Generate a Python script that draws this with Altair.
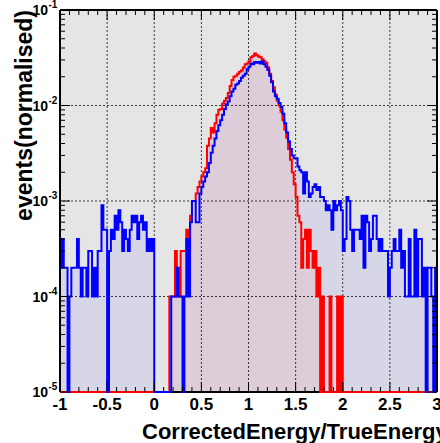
import altair as alt
import pandas as pd

# Histogram binning: 200 bins of width 0.02 between -1 and 3
X_MIN, X_MAX = -1.0, 3.0
BIN_WIDTH = 0.02
N_ENTRIES = 10000.0          # entries per sample, used for the normalisation
Y_FLOOR = 1e-5               # bottom of the log axis; empty bins sit on it

# Bin contents (entries per bin), split in four ranges of 50 bins
blue_m1_0 = [2, 4, 2, 2, 0, 1, 2, 2, 2, 4,
             2, 1, 2, 2, 1, 3, 3, 1, 2, 1,
             3, 3, 9, 5, 5, 0, 3, 5, 4, 7,
             5, 8, 6, 3, 5, 4, 3, 5, 7, 6,
             7, 4, 6, 7, 5, 6, 3, 4, 3, 4]
blue_0_1 = [0, 0, 0, 0, 0, 0, 0, 0, 0, 1,
            1, 1, 2, 1, 1, 0, 1, 4, 1, 6,
            10, 10, 6, 6, 12, 14, 16, 18, 20, 25,
            32, 38, 45, 54, 62, 70, 80, 92, 103, 110,
            125, 140, 150, 165, 170, 180, 195, 205, 215, 240]
blue_1_2 = [255, 275, 270, 285, 280, 285, 275, 290, 270, 255,
            235, 205, 175, 140, 125, 118, 106, 97, 82, 65,
            52, 42, 35, 30, 28, 28, 23, 21, 20, 12,
            20, 16, 11, 12, 14, 15, 13, 14, 11, 11,
            10, 8, 9, 8, 5, 10, 8, 9, 10, 8]
blue_2_3 = [3, 4, 11, 10, 5, 3, 5, 5, 5, 4,
            7, 2, 7, 6, 3, 4, 7, 7, 4, 3,
            4, 3, 3, 3, 1, 2, 3, 4, 3, 3,
            5, 2, 3, 1, 1, 4, 1, 1, 5, 1,
            4, 4, 1, 2, 0, 2, 2, 1, 0, 2]

red_m1_0 = [0, 0, 0, 0, 0, 0, 0, 0, 0, 0,
            0, 0, 0, 0, 0, 0, 0, 0, 0, 0,
            0, 0, 0, 0, 0, 0, 0, 0, 0, 0,
            0, 0, 0, 0, 0, 0, 0, 0, 0, 0,
            0, 0, 0, 0, 0, 0, 0, 0, 0, 0]
red_0_1 = [0, 0, 0, 0, 0, 0, 0, 0, 1, 1,
           1, 3, 1, 1, 3, 3, 3, 5, 3, 7,
           10, 10, 12, 14, 16, 18, 20, 22, 38, 45,
           58, 52, 65, 80, 90, 92, 105, 112, 120, 135,
           160, 185, 200, 205, 215, 225, 232, 250, 270, 275]
red_1_2 = [290, 320, 330, 350, 335, 325, 320, 305, 290, 280,
           250, 215, 180, 155, 130, 112, 100, 86, 70, 56,
           46, 35, 27, 20, 15, 11, 7, 6, 2, 4,
           5, 2, 5, 3, 2, 3, 1, 2, 0, 1,
           0, 0, 0, 1, 0, 0, 0, 1, 0, 1]
red_2_3 = [0, 0, 0, 0, 0, 0, 0, 0, 0, 0,
           0, 0, 0, 0, 0, 0, 0, 0, 0, 0,
           0, 0, 0, 0, 0, 0, 0, 0, 0, 0,
           0, 0, 0, 0, 0, 0, 0, 0, 0, 0,
           0, 0, 0, 0, 0, 0, 0, 0, 0, 0]

# Axis decorations
x_major = [-1, -0.5, 0, 0.5, 1, 1.5, 2, 2.5, 3]
x_major_labels = ["-1", "-0.5", "0", "0.5", "1", "1.5", "2", "2.5", "3"]
x_minor = [-0.9, -0.8, -0.7, -0.6, -0.4, -0.3, -0.2, -0.1,
           0.1, 0.2, 0.3, 0.4, 0.6, 0.7, 0.8, 0.9,
           1.1, 1.2, 1.3, 1.4, 1.6, 1.7, 1.8, 1.9,
           2.1, 2.2, 2.3, 2.4, 2.6, 2.7, 2.8, 2.9]
y_major = [1e-5, 1e-4, 1e-3, 1e-2, 1e-1]
y_exponents = ["-5", "-4", "-3", "-2", "-1"]
y_minor = [m * d for d in (1e-5, 1e-4, 1e-3, 1e-2) for m in range(2, 10)]

X_TITLE = "CorrectedEnergy/TrueEnergy"
Y_TITLE = "events(normalised)"

W, H = 377, 382
FONT = "Liberation Sans"

xs = alt.Scale(domain=[X_MIN, X_MAX], nice=False, zero=False)
ys = alt.Scale(type="log", domain=[Y_FLOOR, 1e-1], nice=False)


def hist_frame(chunks):
    counts = [c for chunk in chunks for c in chunk]
    rows = [{"x": X_MIN + i * BIN_WIDTH, "v": max(c / N_ENTRIES, Y_FLOOR),
             "base": Y_FLOOR}
            for i, c in enumerate(counts)]
    rows.append({"x": X_MAX, "v": rows[-1]["v"], "base": Y_FLOOR})
    return pd.DataFrame(rows)


red_df = hist_frame([red_m1_0, red_0_1, red_1_2, red_2_3])
blue_df = hist_frame([blue_m1_0, blue_0_1, blue_1_2, blue_2_3])

X = alt.X("x:Q", scale=xs, axis=None)
Y = alt.Y("v:Q", scale=ys, axis=None)


def fill(df, color, op):
    return alt.Chart(df).mark_area(interpolate="step-after", fill=color,
                                   fillOpacity=op, stroke=None).encode(
        x=X, y=Y, y2=alt.Y2("base:Q"))


def outline(df, color):
    return alt.Chart(df).mark_line(interpolate="step-after", color=color,
                                   strokeWidth=2).encode(x=X, y=Y)


def vals(v):
    return pd.DataFrame({"v": v})


grid_style = dict(color="black", strokeDash=[2, 2], strokeWidth=1, opacity=0.75)
grid_x = alt.Chart(vals(x_major)).mark_rule(**grid_style).encode(
    x=alt.X("v:Q", scale=xs, axis=None))
grid_y = alt.Chart(vals(y_major)).mark_rule(**grid_style).encode(
    y=alt.Y("v:Q", scale=ys, axis=None))


def x_ticks(v, length):
    base = alt.Chart(vals(v)).mark_rule(color="black", strokeWidth=1)
    xe = alt.X("v:Q", scale=xs, axis=None)
    return (base.encode(x=xe, y=alt.value(H), y2=alt.value(H - length)) +
            base.encode(x=xe, y=alt.value(0), y2=alt.value(length)))


def y_ticks(v, length):
    base = alt.Chart(vals(v)).mark_rule(color="black", strokeWidth=1)
    ye = alt.Y("v:Q", scale=ys, axis=None)
    return (base.encode(y=ye, x=alt.value(0), x2=alt.value(length)) +
            base.encode(y=ye, x=alt.value(W), x2=alt.value(W - length)))


frame_v = alt.Chart(vals([X_MIN, X_MAX])).mark_rule(color="black", strokeWidth=2).encode(
    x=alt.X("v:Q", scale=xs, axis=None))
frame_h = alt.Chart(vals([Y_FLOOR, 1e-1])).mark_rule(color="black", strokeWidth=2).encode(
    y=alt.Y("v:Q", scale=ys, axis=None))

x_labels = alt.Chart(pd.DataFrame({"v": x_major, "t": x_major_labels})).mark_text(
    font=FONT, fontWeight="bold", fontSize=17, align="center", baseline="alphabetic"
).encode(x=alt.X("v:Q", scale=xs, axis=None), y=alt.value(H + 18), text="t:N")

y_df = pd.DataFrame({"v": y_major, "e": y_exponents, "b": ["10"] * len(y_major)})
y_labels = alt.Chart(y_df).mark_text(
    font=FONT, fontWeight="bold", fontSize=14, align="right", baseline="middle", dy=1
).encode(y=alt.Y("v:Q", scale=ys, axis=None), x=alt.value(-12), text="b:N")
y_exp = alt.Chart(y_df).mark_text(
    font=FONT, fontWeight="bold", fontSize=10, align="left", baseline="middle", dy=-5
).encode(y=alt.Y("v:Q", scale=ys, axis=None), x=alt.value(-11.5), text="e:N")

x_title = alt.Chart(pd.DataFrame({"t": [X_TITLE]})).mark_text(
    font=FONT, fontWeight="bold", fontSize=22, align="left", baseline="alphabetic"
).encode(x=alt.value(82), y=alt.value(H + 46.5), text="t:N")
y_title = alt.Chart(pd.DataFrame({"t": [Y_TITLE]})).mark_text(
    font=FONT, fontWeight="bold", fontSize=23, align="right", baseline="alphabetic",
    angle=270
).encode(x=alt.value(-28), y=alt.value(0), text="t:N")

chart = alt.layer(
    fill(blue_df, "#4040ff", 0.09),
    fill(red_df, "#dccdd8", 1.0),
    grid_x, grid_y,
    frame_v, frame_h,
    outline(red_df, "#ff0000"),
    outline(blue_df, "#0000ff"),
    x_ticks(x_major, 10), x_ticks(x_minor, 5),
    y_ticks(y_major, 10), y_ticks(y_minor, 5),
    x_labels, y_labels, y_exp, x_title, y_title,
).properties(
    width=W, height=H,
    autosize=alt.AutoSizeParams(type="none"),
    padding={"left": 60, "top": 10, "right": 3, "bottom": 51},
).configure_view(fill="#e5e5e5", stroke=None)

chart.save("out.html", embed_options={"renderer": "svg", "actions": False})
